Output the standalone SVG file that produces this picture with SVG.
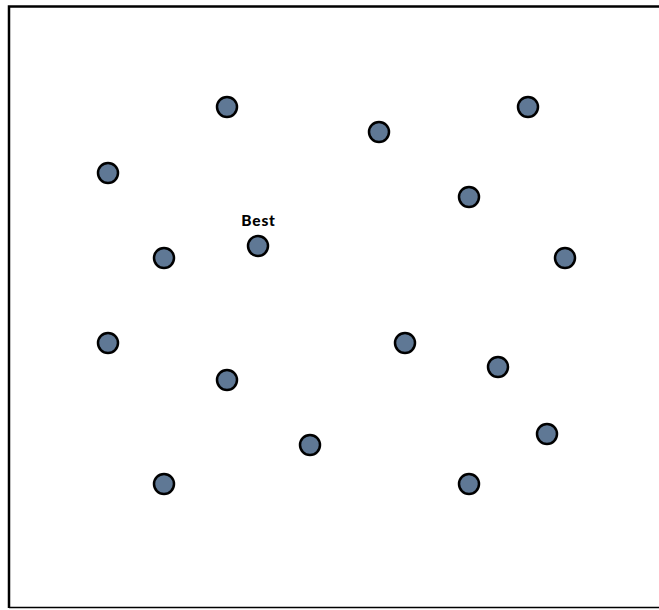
<svg xmlns="http://www.w3.org/2000/svg" width="659" height="610" viewBox="0 0 659 610">
<style>
.n{fill:#5f7895;stroke:#000;stroke-width:2.5}
.l{font-family:Lato,"Liberation Sans",sans-serif;font-weight:900;font-size:15.5px;letter-spacing:0.8px;fill:#000;text-anchor:middle}
</style>
<rect width="659" height="610" fill="#fff"/>
<path d="M9,608 V6.5 H670" fill="none" stroke="#000" stroke-width="2.5"/>
<line x1="9" y1="607.5" x2="670" y2="607.5" stroke="#000" stroke-width="1.5"/>
<g id="connectors"></g>
<g transform="translate(0,1)">
<g id="n1"><circle class="n" cx="227" cy="106" r="10"/></g>
<g id="n2"><circle class="n" cx="379" cy="131" r="10"/></g>
<g id="n3"><circle class="n" cx="528" cy="106" r="10"/></g>
<g id="n4"><circle class="n" cx="108" cy="172" r="10"/></g>
<g id="n5"><circle class="n" cx="469" cy="196" r="10"/></g>
<g id="n6"><circle class="n" cx="164" cy="257" r="10"/></g>
<g id="best"><circle class="n" cx="258" cy="245" r="10"/><text class="l" x="258.5" y="224.5">Best</text></g>
<g id="n8"><circle class="n" cx="565" cy="257" r="10"/></g>
<g id="n9"><circle class="n" cx="108" cy="342" r="10"/></g>
<g id="n10"><circle class="n" cx="405" cy="342" r="10"/></g>
<g id="n11"><circle class="n" cx="498" cy="366" r="10"/></g>
<g id="n12"><circle class="n" cx="227" cy="379" r="10"/></g>
<g id="n13"><circle class="n" cx="547" cy="433" r="10"/></g>
<g id="n14"><circle class="n" cx="310" cy="444" r="10"/></g>
<g id="n15"><circle class="n" cx="164" cy="483" r="10"/></g>
<g id="n16"><circle class="n" cx="469" cy="483" r="10"/></g>
</g>
</svg>
